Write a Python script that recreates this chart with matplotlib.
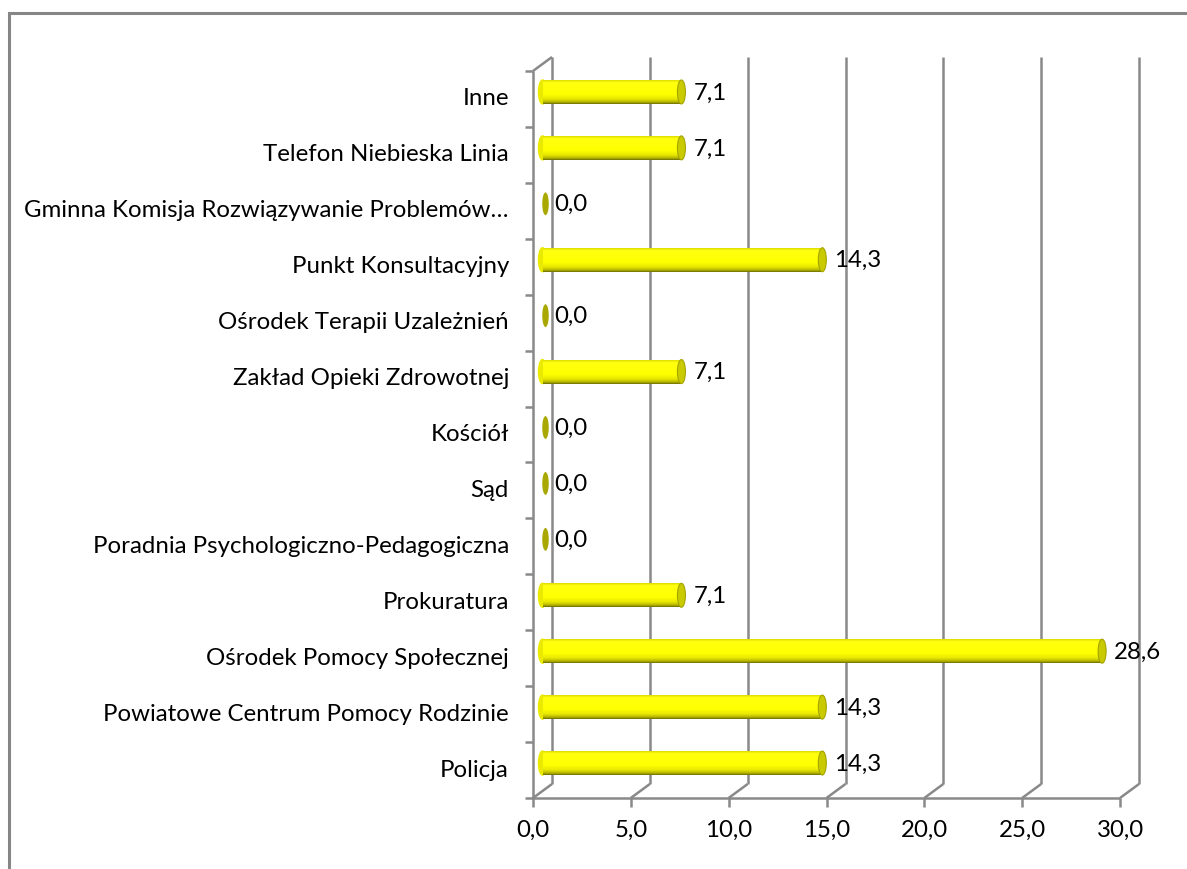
import numpy as np
import matplotlib
matplotlib.use("Agg")
import matplotlib.pyplot as plt
from matplotlib.patches import Ellipse, Rectangle
from matplotlib.colors import LinearSegmentedColormap

plt.rcParams['font.family'] = ['Lato', 'DejaVu Sans']

CATEGORIES = [
    "Policja",
    "Powiatowe Centrum Pomocy Rodzinie",
    "Ośrodek Pomocy Społecznej",
    "Prokuratura",
    "Poradnia Psychologiczno-Pedagogiczna",
    "Sąd",
    "Kościół",
    "Zakład Opieki Zdrowotnej",
    "Ośrodek Terapii Uzależnień",
    "Punkt Konsultacyjny",
    "Gminna Komisja Rozwiązywanie Problemów…",
    "Telefon Niebieska Linia",
    "Inne",
]
VALUES = [14.3, 14.3, 28.6, 7.1, 0.0, 0.0, 0.0, 7.1, 0.0, 14.3, 0.0, 7.1, 7.1]
X_TICKS = [0, 5, 10, 15, 20, 25, 30]

W, H, DPI = 1187, 869, 100
GRID = "#898989"
FONT = 17.3

fig = plt.figure(figsize=(W / DPI, H / DPI), dpi=DPI)
# back wall of the 3d box
left, right, top, bottom = 552, 1139, 57, 784
ax = fig.add_axes([left / W, 1 - bottom / H, (right - left) / W, (bottom - top) / H])
ax.set_xlim(0, 30)
ax.set_ylim(-0.5, len(CATEGORIES) - 0.5)
ax.axis("off")

# pixel -> data unit factors
kx = 30 / (right - left)
ky = len(CATEGORIES) / (bottom - top)
ddx, ddy = -19 * kx, -14 * ky          # front plane offset
y0, y1 = -0.5, len(CATEGORIES) - 0.5

line_kw = dict(color=GRID, lw=1.8, clip_on=False, solid_capstyle="butt")

# back gridlines and diagonals to the front axis
for v in X_TICKS:
    ax.plot([v, v], [y0, y1], **line_kw)
    ax.plot([v, v + ddx], [y0, y0 + ddy], **line_kw)
    ax.plot([v + ddx, v + ddx], [y0 + ddy, y0 + ddy - 9 * ky], **line_kw)
    ax.text(v + ddx, y0 + ddy - 32 * ky, f"{v:.1f}".replace(".", ","),
            ha="center", va="center", fontsize=FONT)

# front axes
ax.plot([ddx, 30 + ddx], [y0 + ddy, y0 + ddy], **line_kw)
ax.plot([ddx, ddx], [y0 + ddy, y1 + ddy], **line_kw)
ax.plot([0, ddx], [y1, y1 + ddy], **line_kw)
for k in range(len(CATEGORIES) + 1):
    yk = k - 0.5 + ddy
    ax.plot([ddx, ddx - 8 * kx], [yk, yk], **line_kw)

# cylinders
cmap = LinearSegmentedColormap.from_list("cyl", [
    (0.0, "#6e6e00"), (0.07, "#b0b000"), (0.2, "#e6e600"),
    (0.4, "#ffff00"), (0.9, "#ffff10"), (1.0, "#dcdc00")])
grad = np.linspace(0, 1, 64).reshape(-1, 1)
bar_h = 24 * ky
cap_w = 8 * kx
for i, (cat, v) in enumerate(zip(CATEGORIES, VALUES)):
    yc = i + ddy / 2
    xs = ddx / 2
    xe = v + ddx / 2
    if v > 0:
        ax.add_patch(Ellipse((xs, yc), cap_w, bar_h, color="#eaea00", zorder=2,
                             clip_on=False))
        rect = Rectangle((xs, yc - bar_h / 2), xe - xs, bar_h, fc="none", ec="none",
                         clip_on=False)
        ax.add_patch(rect)
        im = ax.imshow(grad, cmap=cmap, origin="lower", aspect="auto",
                       extent=[xs, xe, yc - bar_h / 2, yc + bar_h / 2], zorder=3)
        im.set_clip_box(fig.bbox)
        im.set_clip_path(rect)
        ax.add_patch(Ellipse((xe, yc), cap_w, bar_h, fc="#caca00", ec="#a4a400",
                             lw=0.8, zorder=4, clip_on=False))
        lx = xe + cap_w / 2 + 8 * kx
    else:
        ax.add_patch(Ellipse((xs + 3 * kx, yc), 6.5 * kx, bar_h * 0.95, fc="#a8a800",
                             ec="none", zorder=4, clip_on=False))
        lx = xs + 12 * kx
    ax.text(lx, yc - 1 * ky, f"{v:.1f}".replace(".", ","), ha="left", va="center",
            fontsize=FONT, zorder=5)
    ax.text(ddx - 24 * kx, i + ddy, cat, ha="right", va="center", fontsize=FONT)

ax.set_xlim(0, 30)
ax.set_ylim(y0, y1)

# chart area border
fig.patches.append(Rectangle((8.5 / W, -0.1), 1.2, 1.1 - 13 / H,
                             transform=fig.transFigure, fill=False,
                             ec="#868686", lw=2.2))

fig.savefig("out.png", dpi=DPI)
